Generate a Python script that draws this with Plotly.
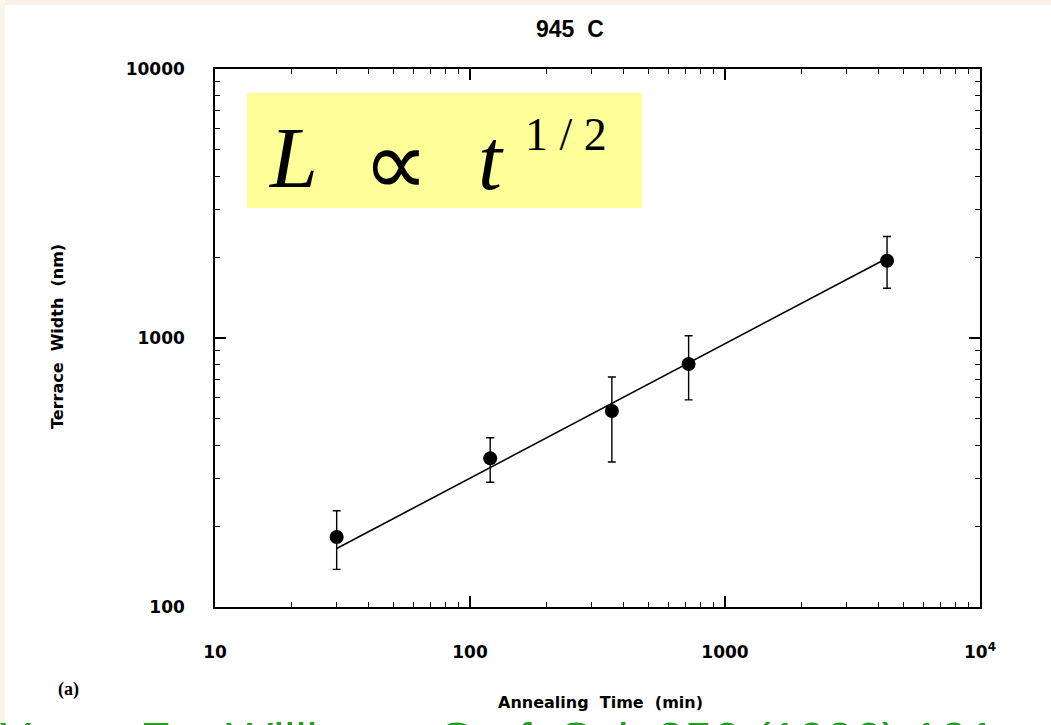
import plotly.graph_objects as go

# ---- data ----
time_min = [30, 120, 360, 720, 4320]
width_nm = [182, 357, 535, 800, 1936]
err_plus = [46, 69, 181, 220, 447]
err_minus = [44, 66, 189, 211, 405]

fit_time = [30, 4320]
fit_width = [165, 1980]

x_tickvals = [10, 100, 1000, 10000]
x_ticktext = ["10", "100", "1000", "10<sup>4</sup>"]
y_tickvals = [100, 1000, 10000]
y_ticktext = ["100", "1000", "10000"]

x_minor = [m * d for d in (10, 100, 1000) for m in range(2, 10)]
y_minor = [m * d for d in (100, 1000) for m in range(2, 10)]

W, H = 1051, 725
L_PX, R_PX, T_PX, B_PX = 215, 980, 69, 607


def px(xp):
    return (xp - L_PX) / (R_PX - L_PX)


def py(yp):
    return (B_PX - yp) / (B_PX - T_PX)


fig = go.Figure()

fig.add_trace(go.Scatter(
    x=fit_time, y=fit_width, mode="lines",
    line=dict(color="black", width=1.6), showlegend=False, hoverinfo="skip"))

fig.add_trace(go.Scatter(
    x=time_min, y=width_nm, mode="markers",
    marker=dict(color="black", size=14),
    error_y=dict(type="data", symmetric=False, array=err_plus, arrayminus=err_minus,
                 color="black", thickness=1.4, width=4),
    showlegend=False))

tick_font = dict(family="DejaVu Sans", size=17, color="black", weight="bold")
common = dict(
    type="log", showline=True, linecolor="black", linewidth=1.5,
    mirror="allticks", ticks="inside", ticklen=11, tickwidth=1.5, tickcolor="black",
    showgrid=False, zeroline=False, tickmode="array", tickfont=tick_font,
)

fig.update_xaxes(
    **common, range=[1, 4], tickvals=x_tickvals, ticktext=x_ticktext,
    ticklabelstandoff=29,
    minor=dict(ticks="inside", ticklen=5, tickwidth=1, tickcolor="black",
               tickmode="array", tickvals=x_minor, showgrid=False))
fig.update_yaxes(
    **common, range=[2, 4], tickvals=y_tickvals, ticktext=y_ticktext,
    ticklabelstandoff=25,
    minor=dict(ticks="inside", ticklen=5, tickwidth=1, tickcolor="black",
               tickmode="array", tickvals=y_minor, showgrid=False))

shapes = [
    # faint slide background edges
    dict(type="rect", xref="paper", yref="paper", x0=px(0), x1=px(W), y0=py(0), y1=py(5),
         fillcolor="#fcefe9", line=dict(width=0), layer="below"),
    dict(type="rect", xref="paper", yref="paper", x0=px(0), x1=px(5), y0=py(0), y1=py(H),
         fillcolor="#faf6e6", line=dict(width=0), layer="below"),
    # yellow formula box
    dict(type="rect", xref="paper", yref="paper", x0=px(247), x1=px(642), y0=py(208), y1=py(93),
         fillcolor="#ffff99", line=dict(width=0), layer="above"),
]

serif = "Liberation Serif, Times New Roman, serif"
annotations = [
    dict(text="<i>L</i>", x=px(293), y=py(158), font=dict(family=serif, size=86, color="black")),
    dict(text="∝", x=px(396), y=py(164), font=dict(family=serif, size=92, color="black")),
    dict(text="<i>t</i>", x=px(491), y=py(160), font=dict(family=serif, size=86, color="black")),
    dict(text="1 / 2", x=px(566), y=py(135), font=dict(family=serif, size=46, color="black")),
    dict(text="<b>945  C</b>", x=px(570), y=py(29),
         font=dict(family="Liberation Sans, Arial", size=23, color="black")),
    dict(text="<b>Annealing  Time  (min)</b>", x=px(600), y=py(702),
         font=dict(family="DejaVu Sans", size=16, color="black")),
    dict(text="<b>Terrace  Width  (nm)</b>", x=px(57), y=py(337), textangle=-90,
         font=dict(family="DejaVu Sans", size=16, color="black")),
    dict(text="<b>(a)</b>", x=px(68), y=py(689),
         font=dict(family=serif, size=18, color="black")),
    dict(text="Yang, Fu, Williams, Surf. Sci. 356 (1996) 101", x=px(-3), y=py(711),
         xanchor="left", yanchor="top",
         font=dict(family="Liberation Sans, Arial", size=50, color="#22a022")),
]
for a in annotations:
    a.setdefault("xanchor", "center")
    a.setdefault("yanchor", "middle")
    a.update(xref="paper", yref="paper", showarrow=False)

fig.update_layout(
    width=W, height=H, autosize=False,
    margin=dict(l=L_PX, r=W - R_PX, t=T_PX, b=H - B_PX, pad=0),
    paper_bgcolor="white", plot_bgcolor="white",
    shapes=shapes, annotations=annotations,
)

fig.write_html("out.html")
